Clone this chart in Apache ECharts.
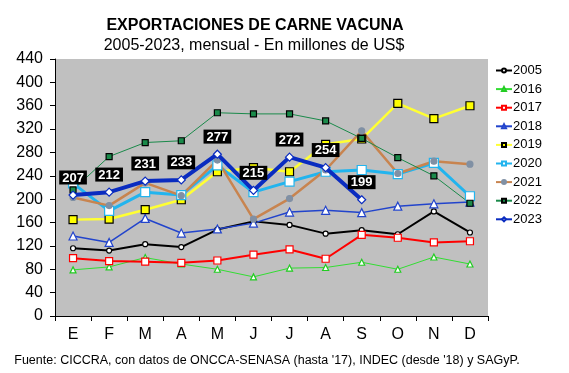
<!DOCTYPE html>
<html><head><meta charset="utf-8">
<script src="https://cdn.jsdelivr.net/npm/echarts@6/dist/echarts.min.js"></script>
<style>html,body{margin:0;padding:0;background:#fff}#c{width:569px;height:373px}</style>
</head><body><div id="c"></div>
<script>
const months = ['E','F','M','A','M','J','J','A','S','O','N','D'];
const y2005 = [116,112,123,118,148,162,156,141,147,140,179,143];
const y2016 = [79,84,100,89,80,67,82,83,92,80,101,89];
const y2017 = [99,94,93,91,95,105,114,98,139,134,126,128];
const y2018 = [137,126,167,142,149,159,178,181,177,188,192,195];
const y2019 = [165,166,182,199,247,254,247,294,303,364,338,360];
const y2020 = [227,180,212,207,258,212,230,247,250,243,262,205];
const y2021 = [203,189,228,206,267,166,201,250,317,244,265,260];
const y2022 = [216,273,297,300,348,346,346,334,304,271,240,193];
const y2023 = [207,212,231,233,277,215,272,254,199];

const FONT = 'Liberation Sans, Arial, sans-serif';
const chart = echarts.init(document.getElementById('c'));

function s(name, data, color, width, symbol, size, fill, border, extra) {
  return Object.assign({
    name, type: 'line', data, symbol, symbolSize: size,
    lineStyle: { color, width },
    itemStyle: { color: fill, borderColor: border, borderWidth: 1.2 },
    emphasis: { disabled: true }, animation: false
  }, extra || {});
}

chart.setOption({
  animation: false,
  textStyle: { fontFamily: FONT },
  title: [
    { text: 'EXPORTACIONES DE CARNE VACUNA', left: 250, top: 13, textAlign: 'center',
      textStyle: { fontFamily: FONT, fontSize: 16, fontWeight: 'bold', color: '#000' } },
    { text: '2005-2023, mensual - En millones de US$', left: 249, top: 33, textAlign: 'center',
      textStyle: { fontFamily: FONT, fontSize: 16, fontWeight: 'normal', color: '#000' } },
    { text: "Fuente: CICCRA, con datos de ONCCA-SENASA (hasta '17), INDEC (desde '18) y SAGyP.", left: 262, top: 349, textAlign: 'center',
      textStyle: { fontFamily: FONT, fontSize: 12.5, fontWeight: 'normal', color: '#000' } }
  ],
  legend: {
    orient: 'vertical', left: 490, top: 59, itemWidth: 16, itemHeight: 5, itemGap: 5.6,
    textStyle: { fontFamily: FONT, fontSize: 13, color: '#000', padding: [0,0,0,-4] },
    data: ['2005','2016','2017','2018','2019','2020','2021','2022','2023']
  },
  grid: { left: 55, right: 81, top: 59, bottom: 57, show: true, backgroundColor: '#c0c0c0', borderWidth: 0 },
  xAxis: {
    type: 'category', data: months, boundaryGap: true,
    axisLine: { lineStyle: { color: '#000', width: 1 } },
    axisTick: { show: true, length: 5, lineStyle: { color: '#000' } },
    axisLabel: { fontFamily: FONT, fontSize: 16, color: '#000', margin: 11 }
  },
  yAxis: {
    type: 'value', min: 0, max: 440, interval: 40,
    axisLine: { show: true, lineStyle: { color: '#000', width: 1 } },
    axisTick: { show: true, length: 5, lineStyle: { color: '#000' } },
    splitLine: { show: false },
    axisLabel: { fontFamily: FONT, fontSize: 16, color: '#000', margin: 12 }
  },
  series: [
    s('2005', y2005, '#000000', 2, 'circle', 5, '#ffffff', '#000000'),
    s('2016', y2016, '#33dd33', 1, 'triangle', 6, '#ffffff', '#22cc22'),
    s('2017', y2017, '#ff0000', 2, 'rect', 7, '#ffffff', '#ff0000'),
    s('2018', y2018, '#2244cc', 1.5, 'triangle', 8, '#ffffff', '#2244cc'),
    s('2019', y2019, '#ffff33', 2.5, 'rect', 8, '#ffff00', '#000000'),
    s('2020', y2020, '#22b4ee', 3, 'rect', 9, '#ffffff', '#22b4ee', {}),
    s('2021', y2021, '#c8844f', 2.5, 'circle', 6, '#8090a4', '#8090a4'),
    s('2022', y2022, '#1a8a4a', 1, 'rect', 6, '#1a8a4a', '#000000'),
    s('2023', y2023, '#0a2cc0', 4, 'diamond', 8, '#ffffff', '#0a2cc0', {
      z: 5,
      label: {
        show: true, position: 'top', distance: 6,
        backgroundColor: '#000', color: '#fff', fontFamily: FONT, fontSize: 13, fontWeight: 'bold',
        padding: [1, 3, 0, 3]
      }
    })
  ]
});
</script></body></html>
